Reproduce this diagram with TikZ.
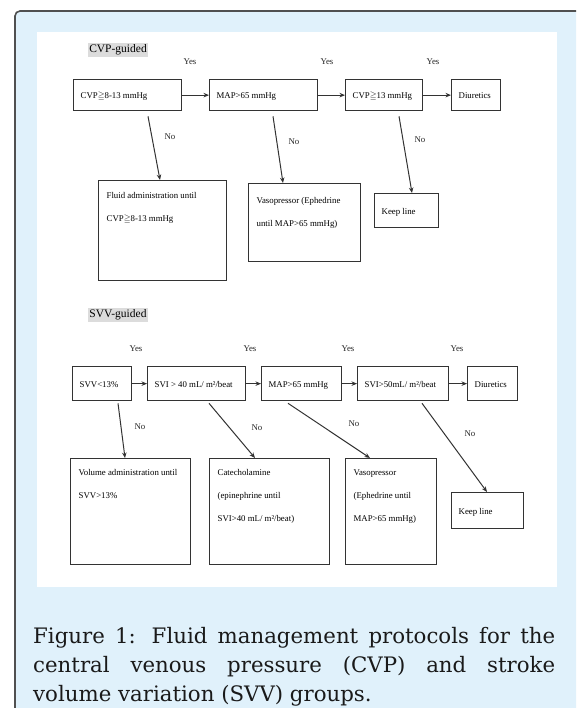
\documentclass[tikz,border=0pt]{standalone}
\usepackage{fontspec}
\usepackage{amssymb}
\setmainfont{Liberation Serif}
\newfontfamily\capfont{DejaVu Serif}
\usetikzlibrary{arrows.meta}
\definecolor{panelblue}{HTML}{E0F1FB}
\definecolor{lineg}{HTML}{333333}
\definecolor{framec}{HTML}{505050}
\definecolor{hlgray}{HTML}{DCDCDC}
\definecolor{captext}{HTML}{1A1A1A}
\newcommand{\slbox}[2]{\makebox[#1][l]{#2}}
\newcommand{\tpbox}[4]{\parbox[c][#2][t]{#1}{\vspace*{#3}\raggedright\baselineskip=23pt\leavevmode #4}}
\newcommand{\geqsym}{$\geqq$}
\begin{document}
\begin{tikzpicture}[x=1pt,y=-1pt,
  font=\fontsize{8.8}{10}\selectfont,
  sbox/.style={draw=lineg, line width=1.3pt, fill=white, inner xsep=7pt, inner ysep=0pt, anchor=north west},
  tbox/.style={draw=lineg, line width=1.3pt, fill=white, inner xsep=8pt, inner ysep=0pt, anchor=north west},
  arr/.style={draw=lineg, line width=1pt, -{Stealth[length=5.5pt,width=4.5pt]}},
  lbl/.style={inner sep=0pt, text=black!85},
  sect/.style={fill=hlgray, inner sep=1.5pt, font=\fontsize{11.5}{13}\selectfont},
  capline/.style={anchor=base west, inner sep=0pt, text=captext, font=\capfont\fontsize{21.3}{24}\selectfont}]
\useasboundingbox (0,0) rectangle (576,708);
\clip (0,0) rectangle (576,708);
\fill[white] (0,0) rectangle (576,708);
\fill[panelblue, rounded corners=5pt] (15,11) rectangle (620,760);
\draw[framec, line width=1.6pt, rounded corners=5pt] (15,11) rectangle (620,760);
\fill[white] (37,32) rectangle (557,587);

% section labels
\node[sect] (cvpg) at (118,50) {CVP-guided};
\node[sect] (svvg) at (118,315) {SVV-guided};

% CVP row
\node[sbox] (b1) at (73,79) {\slbox{94pt}{\rule{0pt}{31pt}\raisebox{12pt}{CVP\geqsym8-13 mmHg}}};
\node[sbox] (b2) at (209,79) {\slbox{94pt}{\rule{0pt}{31pt}\raisebox{12pt}{MAP>65 mmHg}}};
\node[sbox] (b3) at (345,79) {\slbox{63pt}{\rule{0pt}{31pt}\raisebox{12pt}{CVP\geqsym13 mmHg}}};
\node[sbox] (b4) at (451,79) {\slbox{35pt}{\rule{0pt}{31pt}\raisebox{12pt}{Diuretics}}};

\node[tbox] (f1) at (98,180) {\tpbox{112pt}{100pt}{12pt}{Fluid administration until\\CVP\geqsym8-13 mmHg}};
\node[tbox] (f2) at (248,183) {\tpbox{96pt}{78pt}{14pt}{Vasopressor (Ephedrine\\until MAP>65 mmHg)}};
\node[sbox] (k1) at (374,193) {\slbox{50pt}{\rule{0pt}{34pt}\raisebox{13pt}{Keep line}}};

\draw[arr] (b1.east) -- (b2.west);
\draw[arr] (b2.east) -- (b3.west);
\draw[arr] (b3.east) -- (b4.west);
\draw[arr] ([shift={(75,5)}]b1.south west) -- ([shift={(62,0)}]f1.north west);
\draw[arr] ([shift={(64,5)}]b2.south west) -- ([shift={(35,0)}]f2.north west);
\draw[arr] ([shift={(54,5)}]b3.south west) -- ([shift={(38,0)}]k1.north west);

\node[lbl] (y1) at (190,62) {Yes};
\node[lbl] (y2) at (327,62) {Yes};
\node[lbl] (y3) at (433,62) {Yes};
\node[lbl] (n1) at (170,137) {No};
\node[lbl] (n2) at (294,142) {No};
\node[lbl] (n3) at (420,140) {No};

% SVV row
\node[sbox] (s1) at (72,366) {\slbox{45pt}{\rule{0pt}{34pt}\raisebox{13pt}{SVV<13\%}}};
\node[sbox] (s2) at (147,366) {\slbox{84pt}{\rule{0pt}{34pt}\raisebox{13pt}{SVI > 40 mL/ m²/beat}}};
\node[sbox] (s3) at (261,366) {\slbox{66pt}{\rule{0pt}{34pt}\raisebox{13pt}{MAP>65 mmHg}}};
\node[sbox] (s4) at (357,366) {\slbox{77pt}{\rule{0pt}{34pt}\raisebox{13pt}{SVI>50mL/ m²/beat}}};
\node[sbox] (s5) at (467,366) {\slbox{36pt}{\rule{0pt}{34pt}\raisebox{13pt}{Diuretics}}};

\node[tbox] (v1) at (70,458) {\tpbox{104pt}{106pt}{11pt}{Volume administration until\\SVV>13\%}};
\node[tbox] (v2) at (209,458) {\tpbox{104pt}{106pt}{11pt}{Catecholamine\\(epinephrine until\\SVI>40 mL/ m²/beat)}};
\node[tbox] (v3) at (345,458) {\tpbox{75pt}{106pt}{11pt}{Vasopressor\\(Ephedrine until\\MAP>65 mmHg)}};
\node[sbox] (k2) at (451,492) {\slbox{58pt}{\rule{0pt}{36pt}\raisebox{14pt}{Keep line}}};

\draw[arr] (s1.east) -- (s2.west);
\draw[arr] (s2.east) -- (s3.west);
\draw[arr] (s3.east) -- (s4.west);
\draw[arr] (s4.east) -- (s5.west);
\draw[arr] ([shift={(46,2)}]s1.south west) -- ([shift={(55,0)}]v1.north west);
\draw[arr] ([shift={(62,2)}]s2.south west) -- ([shift={(46,0)}]v2.north west);
\draw[arr] ([shift={(27,2)}]s3.south west) -- ([shift={(25,0)}]v3.north west);
\draw[arr] ([shift={(65,2)}]s4.south west) -- ([shift={(36,0)}]k2.north west);

\node[lbl] (y4) at (136,349) {Yes};
\node[lbl] (y5) at (250,349) {Yes};
\node[lbl] (y6) at (348,349) {Yes};
\node[lbl] (y7) at (457,349) {Yes};
\node[lbl] (n4) at (140,427) {No};
\node[lbl] (n5) at (257,428) {No};
\node[lbl] (n6) at (354,424) {No};
\node[lbl] (n7) at (470,434) {No};

% caption
\node[capline] (c1) at (33,643) {\makebox[522pt][s]{Figure 1: Fluid management protocols for the}};
\node[capline] (c2) at (33,672) {\makebox[522pt][s]{central venous pressure (CVP) and stroke}};
\node[capline] (c3) at (33,701) {volume variation (SVV) groups.};
\end{tikzpicture}
\end{document}
